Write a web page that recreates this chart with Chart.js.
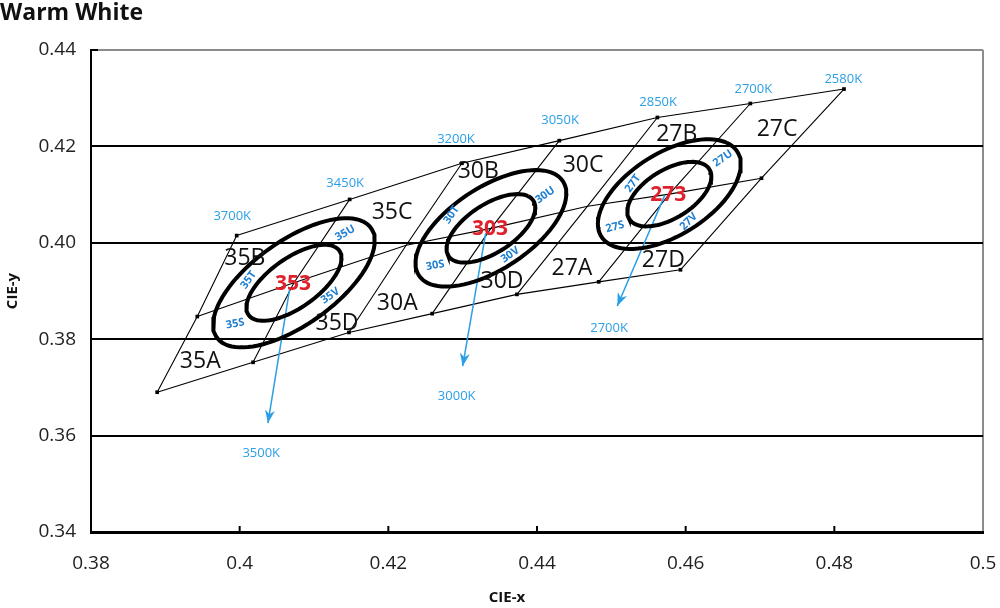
<!DOCTYPE html>
<html>
<head>
<meta charset="utf-8">
<script src="https://cdn.jsdelivr.net/npm/chart.js@4.4.1/dist/chart.umd.min.js"></script>
<style>
  html, body { margin: 0; padding: 0; background: #fff; }
  #wrap { width: 1000px; height: 608px; }
</style>
</head>
<body>
<div id="wrap"><canvas id="grafica" width="1000" height="608"></canvas></div>
<script>
// Isotermas (CCT) de izquierda a derecha
const cctNames = ["3700K", "3450K", "3200K", "3050K", "2850K", "2700K", "2580K"];
const topX = [0.3996, 0.4148, 0.4299, 0.4430, 0.4562, 0.4687, 0.4813];
const topY = [0.4015, 0.4090, 0.4165, 0.4212, 0.4260, 0.4289, 0.4319];
const midX = [0.3943, 0.4073, 0.4224, 0.4338, 0.4468, 0.4578, 0.4702];
const midY = [0.3847, 0.3917, 0.3995, 0.4030, 0.4076, 0.4101, 0.4134];
const botX = [0.3889, 0.4018, 0.4147, 0.4259, 0.4373, 0.4483, 0.4593];
const botY = [0.3690, 0.3752, 0.3814, 0.3853, 0.3893, 0.3919, 0.3944];

// Elipses MacAdam (1 paso) por grupo: 3500K, 3000K, 2700K
const grupos = ["353", "303", "273"];
const centroX = [0.4073, 0.4338, 0.4578];
const centroY = [0.3917, 0.4030, 0.4101];
const elipA = [0.00309, 0.00278, 0.00258];
const elipB = [0.00138, 0.00136, 0.00137];
const elipTheta = [54.0, 53.22, 53.7];
const pasos = [3, 5.1];

// Flechas hacia la CCT nominal
const nominales = ["3500K", "3000K", "2700K"];
const flechaIniX = [0.4067, 0.4331, 0.4572];
const flechaIniY = [0.3902, 0.4020, 0.4099];
const flechaFinX = [0.4038, 0.4300, 0.4508];
const flechaFinY = [0.3626, 0.3744, 0.3869];

// Etiquetas de bins
const bins = ["35A", "35B", "35C", "35D", "30A", "30B", "30C", "30D", "27A", "27B", "27C", "27D"];
const binX = [0.3947, 0.4007, 0.4205, 0.4131, 0.4212, 0.4321, 0.4462, 0.4353, 0.4447, 0.4588, 0.4723, 0.4570];
const binY = [0.3753, 0.3968, 0.4062, 0.3833, 0.3875, 0.4148, 0.4161, 0.3919, 0.3947, 0.4224, 0.4236, 0.3964];

// Sub-bins (S, T, U, V)
const subBins = ["35T", "35U", "35S", "35V", "30T", "30U", "30S", "30V", "27T", "27U", "27S", "27V"];
const subX = [0.4012, 0.4142, 0.3994, 0.4122, 0.4285, 0.4411, 0.4263, 0.4364, 0.4529, 0.4650, 0.4505, 0.4604];
const subY = [0.3923, 0.4020, 0.3832, 0.3890, 0.4058, 0.4099, 0.3953, 0.3975, 0.4123, 0.4175, 0.4033, 0.4044];
const subRot = [-55, -30, -10, -35, -55, -35, -10, -35, -55, -35, -15, -45];

// Posicion de etiquetas CCT
const cctLabX = [0.3990, 0.4142, 0.4291, 0.4431, 0.4563, 0.4691, 0.4812];
const cctLabY = [0.4056, 0.4124, 0.4215, 0.4255, 0.4291, 0.4319, 0.4340];
const nomLabX = [0.4029, 0.4292, 0.4497];
const nomLabY = [0.3564, 0.3682, 0.3823];

const AZUL = "#2a9fe6";
const AZUL_OSC = "#1f80d2";
const ROJO = "#e0202a";

function puntos(xs, ys) {
  return xs.map((x, i) => ({ x, y: ys[i] }));
}

function elipse(i, k) {
  const th = elipTheta[i] * Math.PI / 180;
  const a = elipA[i] * k, b = elipB[i] * k;
  const out = [];
  for (let s = 0; s <= 90; s++) {
    const t = s / 90 * 2 * Math.PI;
    out.push({
      x: centroX[i] + a * Math.cos(t) * Math.cos(th) - b * Math.sin(t) * Math.sin(th),
      y: centroY[i] + a * Math.cos(t) * Math.sin(th) + b * Math.sin(t) * Math.cos(th)
    });
  }
  return out;
}

const datasets = [];

// elipses
grupos.forEach((g, i) => {
  pasos.forEach(k => {
    datasets.push({
      data: elipse(i, k),
      showLine: true,
      borderColor: "#000",
      borderWidth: 4,
      pointRadius: 0,
      tension: 0
    });
  });
});

// flechas
nominales.forEach((n, i) => {
  datasets.push({
    data: [{ x: flechaIniX[i], y: flechaIniY[i] }, { x: flechaFinX[i], y: flechaFinY[i] }],
    showLine: true,
    borderColor: AZUL,
    borderWidth: 1.5,
    pointRadius: 0,
    flecha: true
  });
});

// isotermas
cctNames.forEach((n, i) => {
  datasets.push({
    data: [{ x: topX[i], y: topY[i] }, { x: midX[i], y: midY[i] }, { x: botX[i], y: botY[i] }],
    showLine: true,
    borderColor: "#000",
    borderWidth: 1.1,
    pointRadius: 0
  });
});

// lineas superior, media e inferior
const radioMedio = midX.map((_, i) => (i === 0 || i === midX.length - 1) ? 2.6 : 0);
[[topX, topY, 2.6], [midX, midY, radioMedio], [botX, botY, 2.6]].forEach(([xs, ys, r]) => {
  datasets.push({
    data: puntos(xs, ys),
    showLine: true,
    borderColor: "#000",
    borderWidth: 1.1,
    pointRadius: r,
    pointStyle: "rect",
    pointBackgroundColor: "#000",
    pointBorderWidth: 0
  });
});

const etiquetas = {
  id: "etiquetas",
  afterDatasetsDraw(chart) {
    const { ctx, scales: { x, y } } = chart;
    const px = v => x.getPixelForValue(v);
    const py = v => y.getPixelForValue(v);
    ctx.save();

    // marcas del eje x hacia dentro
    ctx.strokeStyle = "#000";
    ctx.lineWidth = 2;
    x.ticks.forEach(t => {
      if (t.value <= 0.38 || t.value >= 0.5) return;
      const X = px(t.value);
      ctx.beginPath();
      ctx.moveTo(X, chart.chartArea.bottom);
      ctx.lineTo(X, chart.chartArea.bottom - 6);
      ctx.stroke();
    });
    ctx.beginPath();
    ctx.moveTo(chart.chartArea.left, py(0.44));
    ctx.lineTo(chart.chartArea.left + 7, py(0.44));
    ctx.stroke();

    // puntas de flecha
    chart.data.datasets.forEach((ds, i) => {
      if (!ds.flecha) return;
      const p = chart.getDatasetMeta(i).data;
      const x0 = p[0].x, y0 = p[0].y, x1 = p[1].x, y1 = p[1].y;
      const ang = Math.atan2(y1 - y0, x1 - x0);
      ctx.save();
      ctx.translate(x1, y1);
      ctx.rotate(ang);
      ctx.fillStyle = AZUL;
      ctx.beginPath();
      ctx.moveTo(0, 0);
      ctx.lineTo(-13, -5);
      ctx.lineTo(-9, 0);
      ctx.lineTo(-13, 5);
      ctx.closePath();
      ctx.fill();
      ctx.restore();
    });

    ctx.textAlign = "center";
    ctx.textBaseline = "middle";

    // bins
    ctx.fillStyle = "#111";
    ctx.font = "23px 'Open Sans', sans-serif";
    bins.forEach((b, i) => ctx.fillText(b, px(binX[i]), py(binY[i])));

    // sub-bins
    ctx.fillStyle = AZUL_OSC;
    ctx.font = "bold 11px 'Open Sans', sans-serif";
    subBins.forEach((s, i) => {
      ctx.save();
      ctx.translate(px(subX[i]), py(subY[i]));
      ctx.rotate(subRot[i] * Math.PI / 180);
      ctx.fillText(s, 0, 0);
      ctx.restore();
    });

    // centros
    ctx.fillStyle = ROJO;
    ctx.font = "bold 21px 'Open Sans', sans-serif";
    grupos.forEach((g, i) => ctx.fillText(g, px(centroX[i]) - 1, py(centroY[i]) + 1));

    // CCT
    ctx.fillStyle = AZUL;
    ctx.font = "13px 'Open Sans', sans-serif";
    cctNames.forEach((n, i) => ctx.fillText(n, px(cctLabX[i]), py(cctLabY[i])));
    nominales.forEach((n, i) => ctx.fillText(n, px(nomLabX[i]), py(nomLabY[i])));

    // titulo del eje x (centrado en la figura)
    ctx.fillStyle = "#111";
    ctx.font = "bold 15px 'Open Sans', sans-serif";
    ctx.fillText("CIE-x", 507, 598);

    ctx.restore();
  }
};

const ctx = document.getElementById("grafica").getContext("2d");
Chart.defaults.font.family = "'Open Sans', sans-serif";
new Chart(ctx, {
  type: "scatter",
  data: { datasets },
  plugins: [etiquetas],
  options: {
    responsive: false,
    animation: false,
    devicePixelRatio: 1,
    layout: { padding: { left: 0, right: 17, top: 0, bottom: 0 } },
    plugins: {
      legend: { display: false },
      tooltip: { enabled: false },
      title: {
        display: true,
        text: "Warm White",
        align: "start",
        color: "#111",
        font: { size: 23, weight: "bold" },
        padding: { top: 0, bottom: 22.4 }
      }
    },
    scales: {
      x: {
        type: "linear",
        min: 0.38,
        max: 0.5,
        afterFit(s) { s.height = 76; s.paddingRight = 0; s.paddingLeft = 0; },
        ticks: {
          stepSize: 0.02,
          padding: 20,
          color: "#222",
          font: { size: 19 },
          callback: v => String(parseFloat(v.toFixed(2)))
        },
        grid: {
          drawTicks: false,
          lineWidth: 2,
          color: c => (c.tick && Math.abs(c.tick.value - 0.5) < 1e-9) ? "#8c8c8c" : "rgba(0,0,0,0)"
        },
        border: { color: "#000", width: 3 },
        title: { display: false }
      },
      y: {
        type: "linear",
        min: 0.34,
        max: 0.44,
        afterFit(s) { s.width = 91; },
        ticks: {
          stepSize: 0.02,
          padding: 15,
          color: "#222",
          font: { size: 19 },
          callback: v => v.toFixed(2)
        },
        grid: {
          drawTicks: false,
          lineWidth: 2,
          color: c => (c.tick && Math.abs(c.tick.value - 0.44) < 1e-9) ? "#8c8c8c" : "#000"
        },
        border: { color: "#000", width: 2 },
        title: {
          display: true,
          text: "CIE-y",
          color: "#111",
          font: { size: 15, weight: "bold" },
          padding: 4
        }
      }
    }
  }
});
</script>
</body>
</html>
